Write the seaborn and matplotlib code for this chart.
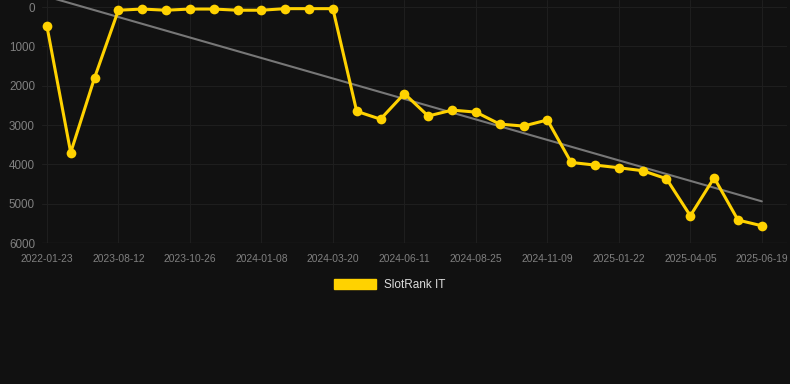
import numpy as np
import pandas as pd
import matplotlib
matplotlib.use("Agg")
import matplotlib.pyplot as plt
import seaborn as sns
from matplotlib.patches import Patch

# ---- data ----
tick_labels = ["2022-01-23", "2023-08-12", "2023-10-26", "2024-01-08", "2024-03-20",
               "2024-06-11", "2024-08-25", "2024-11-09", "2025-01-22", "2025-04-05",
               "2025-06-19"]
rank_values = [480, 3700, 1800, 80, 50, 80, 50, 50, 80, 80, 40, 40, 40,
               2650, 2850, 2200, 2770, 2620, 2670, 2975, 3025, 2870,
               3950, 4017, 4085, 4160, 4365, 5305, 4340, 5415, 5560]
series_name = "SlotRank IT"
y_ticks = [0, 1000, 2000, 3000, 4000, 5000, 6000]

df = pd.DataFrame({"idx": np.arange(len(rank_values)), "rank": rank_values})

sns.set_theme(style="dark")
plt.rcParams["font.family"] = ["Liberation Sans", "DejaVu Sans"]

bg = "#111111"
fig = plt.figure(figsize=(7.9, 3.84), dpi=100, facecolor=bg)
ax = fig.add_axes([0.053, 0.367, 0.943, 0.633])
ax.set_facecolor(bg)

# trend line
sns.regplot(data=df, x="idx", y="rank", scatter=False, ci=None, ax=ax,
            line_kws=dict(color="#777777", linewidth=1.5, zorder=2))
# main series
sns.lineplot(data=df, x="idx", y="rank", ax=ax, color="#FFD200", linewidth=2.2,
             marker="o", markersize=7, markeredgewidth=0, zorder=3)

ax.set_ylim(6000, -180)
ax.set_xlim(-0.21, len(rank_values) - 1 + 1.05)
ax.set_yticks(y_ticks)
ax.set_yticklabels([str(v) for v in y_ticks])
tick_pos = list(range(0, len(rank_values), 3))
ax.set_xticks(tick_pos)
ax.set_xticklabels(tick_labels)
ax.tick_params(axis="x", colors="#808080", labelsize=7.4, length=0, pad=8)
ax.tick_params(axis="y", colors="#808080", labelsize=8.4, length=0, pad=5)
ax.set_xlabel("")
ax.set_ylabel("")
ax.grid(True, color="#1e1e1e", linewidth=0.8)
for s in ax.spines.values():
    s.set_visible(False)
ax.axhline(6000, color="#2c2c2c", linewidth=0.9, zorder=1)

handles = [Patch(facecolor="#FFD200", edgecolor="#FFD200", label=series_name)]
fig.legend(handles=handles, loc="center", bbox_to_anchor=(0.493, 0.258),
           frameon=False, fontsize=8.5, labelcolor="#dddddd",
           handlelength=3.6, handleheight=1.0, handletextpad=0.6)

fig.savefig("out.png", dpi=100, facecolor=bg)
